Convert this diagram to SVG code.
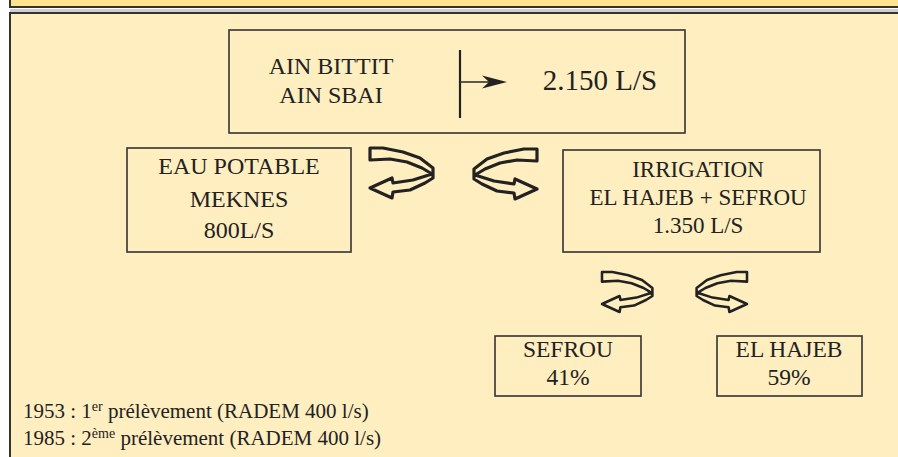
<svg xmlns="http://www.w3.org/2000/svg" width="898" height="457" viewBox="0 0 898 457" font-family="'Liberation Serif','Times New Roman',serif">
<defs>
<style>
.box{fill:none;stroke:#333;stroke-width:1.6}
.t{font-family:'Liberation Serif','Times New Roman',serif;fill:#222;text-anchor:middle}
.n{font-family:'Liberation Serif','Times New Roman',serif;fill:#222}
.tw{fill:none;stroke:#222;stroke-width:3.2;stroke-linejoin:round;vector-effect:non-scaling-stroke}
</style>
<path id="twist" d="M0,0 L13,0 L33,4 L50,10 L63,20 L63,30 L55,35 L40,42 L23,44 L22,50 L0,40 L22,30 L23,35 L43,32 L62,26 L52,20 L37,14 L20,11 L0,12 Z"/>
</defs>
<rect x="0" y="0" width="898" height="457" fill="#ffffff"/>
<rect x="10" y="-5" width="900" height="12" fill="#FFE38F" stroke="#333" stroke-width="2"/>
<rect x="10" y="9" width="890" height="3" fill="#cfcfcf"/>
<rect x="10" y="13" width="900" height="460" fill="#FFEEBF" stroke="#333" stroke-width="2"/>

<g id="source">
<rect class="box" x="229" y="30" width="456" height="103"/>
<text class="t" x="331" y="74" font-size="24">AIN BITTIT</text>
<text class="t" x="331" y="103" font-size="24">AIN SBAI</text>
<line x1="460" y1="50" x2="460" y2="118" stroke="#222" stroke-width="2.2"/>
<text class="t" x="600" y="90" font-size="29">2.150 L/S</text>
</g>

<g id="eau-potable">
<rect class="box" x="127" y="148" width="224" height="104"/>
<text class="t" x="239" y="174" font-size="24">EAU POTABLE</text>
<text class="t" x="239" y="207" font-size="24">MEKNES</text>
<text class="t" x="239" y="238" font-size="24">800L/S</text>
</g>

<g id="irrigation">
<rect class="box" x="563" y="150" width="257" height="102"/>
<text class="t" x="698" y="177" font-size="23">IRRIGATION</text>
<text class="t" x="698" y="205" font-size="23">EL HAJEB + SEFROU</text>
<text class="t" x="698" y="233" font-size="23">1.350 L/S</text>
</g>

<g id="sefrou">
<rect class="box" x="495" y="336" width="146" height="60"/>
<text class="t" x="568" y="357" font-size="23.5">SEFROU</text>
<text class="t" x="568" y="385" font-size="23.5">41%</text>
</g>

<g id="el-hajeb">
<rect class="box" x="717" y="336" width="145" height="60"/>
<text class="t" x="789" y="357" font-size="23.5">EL HAJEB</text>
<text class="t" x="789" y="385" font-size="23.5">59%</text>
</g>

<g id="connectors">
<line x1="460" y1="82" x2="490" y2="82" stroke="#333" stroke-width="1.6"/>
<polygon points="507,82 482,75.5 489,82 482,88.5" fill="#222"/>
<use href="#twist" class="tw" transform="translate(370,148)"/>
<use href="#twist" class="tw" transform="translate(537,149) scale(-1,1)"/>
<use href="#twist" class="tw" transform="translate(602,272) scale(0.8)"/>
<use href="#twist" class="tw" transform="translate(747,272) scale(-0.8,0.8)"/>
</g>

<g id="notes">
<text class="n" x="23" y="418" font-size="21">1953 : 1<tspan font-size="14" dy="-7">er</tspan><tspan dy="7"> prélèvement (RADEM 400 l/s)</tspan></text>
<text class="n" x="23" y="445" font-size="21">1985 : 2<tspan font-size="14" dy="-7">ème</tspan><tspan dy="7"> prélèvement (RADEM 400 l/s)</tspan></text>
</g>
</svg>
